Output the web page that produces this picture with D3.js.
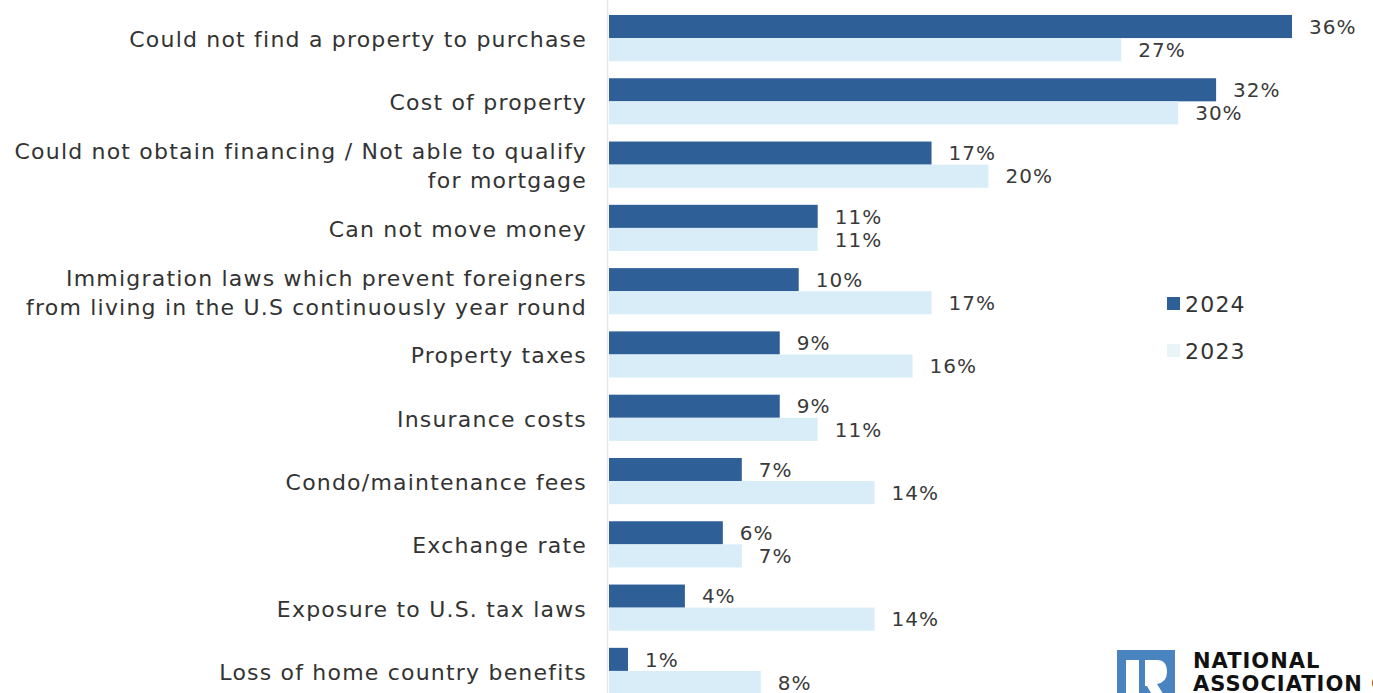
<html>
<script src="https://d3js.org/d3.v7.min.js"></script>
<style>
  body { margin: 0; background: #fff; }
  text { font-family: "DejaVu Sans", sans-serif; fill: #333; }
</style>
<body>
<svg width="1373" height="693"></svg>
<script>
  // categories (top to bottom) and the two series, in percent
  var categories = [
    "Could not find a property to purchase",
    "Cost of property",
    "Could not obtain financing / Not able to qualify|for mortgage",
    "Can not move money",
    "Immigration laws which prevent foreigners|from living in the U.S continuously year round",
    "Property taxes",
    "Insurance costs",
    "Condo/maintenance fees",
    "Exchange rate",
    "Exposure to U.S. tax laws",
    "Loss of home country benefits"
  ];
  var values2024 = [36, 32, 17, 11, 10, 9, 9, 7, 6, 4, 1];
  var values2023 = [27, 30, 20, 11, 17, 16, 11, 14, 7, 14, 8];
  var seriesNames = ["2024", "2023"];
  var colors = ["#2f5f97", "#d8edf8"];

  var svg = d3.select("svg");

  var data = categories.map(function(c, i) {
    return {cat: c, v: [values2024[i], values2023[i]]};
  });

  // x: 0 -> 609px, 36 -> 1292px
  var x = d3.scaleLinear().domain([0, 36]).range([609, 1292]);

  var y = d3.scaleBand()
    .domain(categories)
    .range([8, 701])
    .paddingInner(0.27)
    .paddingOuter(0.11);

  var y1 = d3.scaleBand().domain([0, 1]).range([0, y.bandwidth()]);

  // faint axis line
  svg.append("line")
    .attr("x1", 607.5).attr("x2", 607.5)
    .attr("y1", 0).attr("y2", 693)
    .attr("stroke", "#e6e6e6").attr("stroke-width", 1.5);

  var g = svg.selectAll("g.row")
    .data(data)
    .enter().append("g")
    .attr("class", "row")
    .attr("transform", function(d) { return "translate(0," + y(d.cat) + ")"; });

  g.selectAll("rect")
    .data(function(d) { return d.v; })
    .enter().append("rect")
    .attr("x", x(0))
    .attr("y", function(d, i) { return y1(i); })
    .attr("width", function(d) { return x(d) - x(0); })
    .attr("height", y1.bandwidth())
    .attr("fill", function(d, i) { return colors[i]; });

  g.selectAll("text.val")
    .data(function(d) { return d.v; })
    .enter().append("text")
    .attr("class", "val")
    .attr("x", function(d) { return x(d) + 17; })
    .attr("y", function(d, i) { return y1(i) + y1.bandwidth() / 2; })
    .attr("dy", "0.36em")
    .style("font-size", "20px")
    .style("letter-spacing", "1px")
    .style("fill", "#3a3a3a")
    .text(function(d) { return d + "%"; });

  // category labels
  g.append("text")
    .attr("class", "cat")
    .attr("text-anchor", "end")
    .style("font-size", "22px")
    .style("letter-spacing", "1.2px")
    .each(function(d) {
      var lines = d.cat.split("|");
      var t = d3.select(this);
      var mid = y.bandwidth() / 2 + 1;
      lines.forEach(function(l, k) {
        t.append("tspan")
          .attr("x", 587)
          .attr("y", mid + (k - (lines.length - 1) / 2) * 29)
          .attr("dy", "0.36em")
          .text(l);
      });
    });

  // legend
  var leg = svg.append("g").attr("transform", "translate(1167,297)");
  seriesNames.forEach(function(s, i) {
    leg.append("rect")
      .attr("x", 0).attr("y", i * 47)
      .attr("width", 13).attr("height", 13)
      .attr("fill", i === 0 ? colors[0] : "#e9f4f6");
    leg.append("text")
      .attr("x", 18).attr("y", i * 47 + 7)
      .attr("dy", "0.36em")
      .style("font-size", "22px")
      .style("letter-spacing", "1.2px")
      .text(s);
  });

  // logo, cut off at the bottom right
  var logo = svg.append("g").attr("transform", "translate(1117,650)");
  logo.append("rect").attr("x", 0).attr("y", 0).attr("width", 58).attr("height", 50).attr("fill", "#4a84c0");
  logo.append("rect").attr("x", 9).attr("y", 10).attr("width", 13).attr("height", 40).attr("fill", "#fff");
  logo.append("path").attr("d", "M28,10 H40 Q50,10 50,22 Q50,32 40,34 L50,50 H38 L30,36 H28 Z").attr("fill", "#fff");
  logo.append("text").attr("x", 76).attr("y", 18)
    .style("font-weight", "800").style("font-size", "21px").style("letter-spacing", "1px").style("fill", "#111")
    .text("NATIONAL");
  logo.append("text").attr("x", 76).attr("y", 41)
    .style("font-weight", "800").style("font-size", "21px").style("letter-spacing", "1px").style("fill", "#111")
    .text("ASSOCIATION OF");
</script>
</body>
</html>
